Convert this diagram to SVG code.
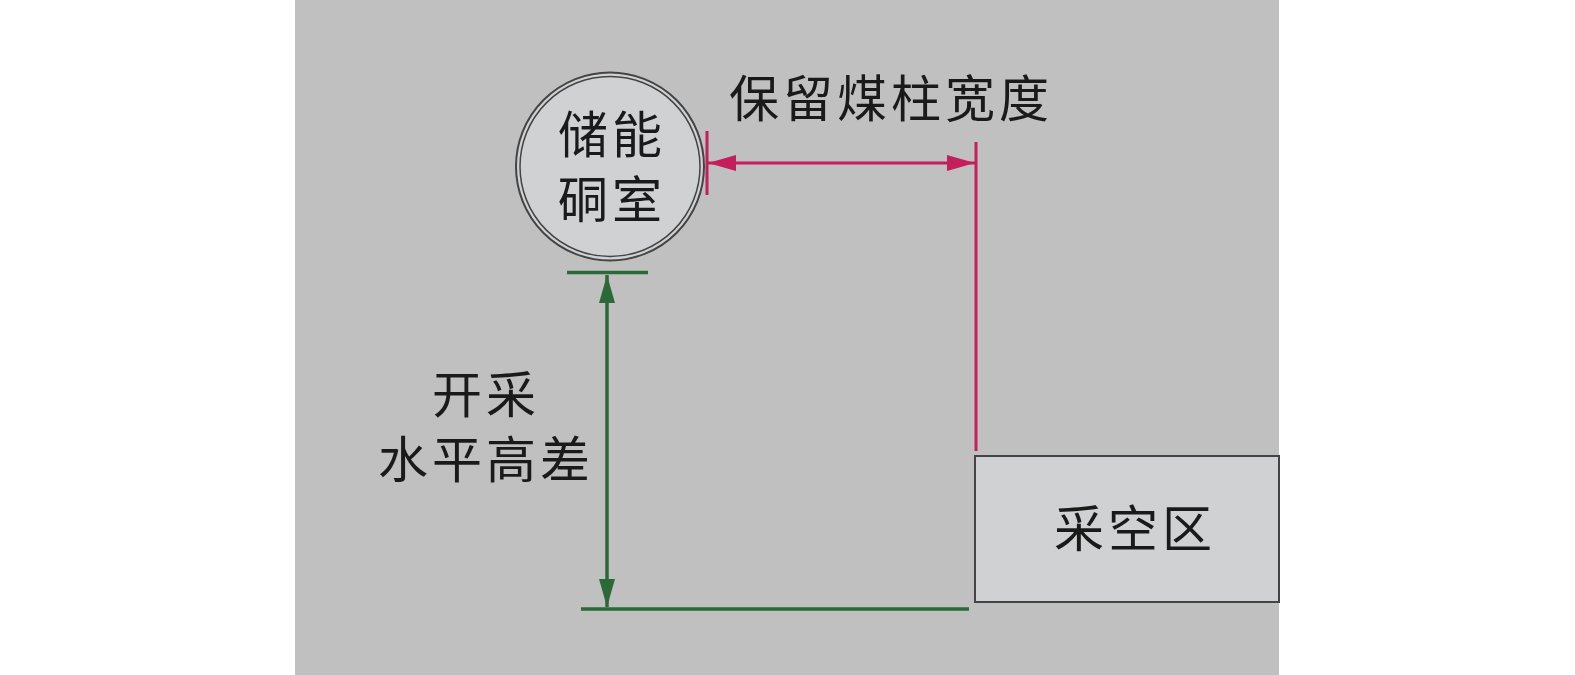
<svg xmlns="http://www.w3.org/2000/svg" width="1575" height="675" viewBox="0 0 1575 675">
<defs>
<style>
.t{font-family:"Noto Sans CJK SC","Noto Sans CJK TC",sans-serif;font-size:50px;fill:#1a1a1a;text-anchor:middle;letter-spacing:4px}
.red{stroke:#c41e5c;stroke-width:3;fill:none}
.grn{stroke:#2b6a38;stroke-width:3.5;fill:none}
</style>
<marker id="ar" viewBox="0 0 28 16" refX="28" refY="8" markerWidth="28" markerHeight="16" markerUnits="userSpaceOnUse" orient="auto-start-reverse"><path d="M0,0 L28,8 L0,16 Z" fill="#c41e5c"/></marker>
<marker id="ag" viewBox="0 0 28 16" refX="28" refY="8" markerWidth="28" markerHeight="16" markerUnits="userSpaceOnUse" orient="auto-start-reverse"><path d="M0,0 L28,8 L0,16 Z" fill="#2b6a38"/></marker>
</defs>
<rect x="0" y="0" width="1575" height="675" fill="#ffffff"/>
<rect x="295" y="0" width="984" height="675" fill="#c0c0c0"/>
<g id="chamber">
<circle cx="610" cy="166.5" r="94" fill="#d0d1d2" stroke="#444" stroke-width="2"/>
<circle cx="610" cy="166.5" r="90" fill="none" stroke="#444" stroke-width="1.5"/>
<text class="t" x="612" y="153">储能</text>
<text class="t" x="612" y="218">硐室</text>
</g>
<g id="goaf">
<rect x="975" y="456" width="304" height="146" fill="#d0d1d2" stroke="#444" stroke-width="2"/>
<text class="t" x="1135" y="547">采空区</text>
</g>
<g id="labels">
<text class="t" x="729" y="117" style="text-anchor:start">保留煤柱宽度</text>
<text class="t" x="486" y="413">开采</text>
<text class="t" x="486" y="478">水平高差</text>
</g>
<g id="connectors">
<line class="red" x1="707" y1="131" x2="707" y2="195"/>
<line class="red" x1="976" y1="142" x2="976" y2="451"/>
<line class="red" x1="708" y1="163" x2="975" y2="163" marker-start="url(#ar)" marker-end="url(#ar)"/>
<line class="grn" x1="567" y1="272.5" x2="648" y2="272.5"/>
<line class="grn" x1="581" y1="609" x2="969" y2="609"/>
<line class="grn" stroke-width="3" x1="607" y1="275" x2="607" y2="607" marker-start="url(#ag)" marker-end="url(#ag)"/>
</g>
</svg>
